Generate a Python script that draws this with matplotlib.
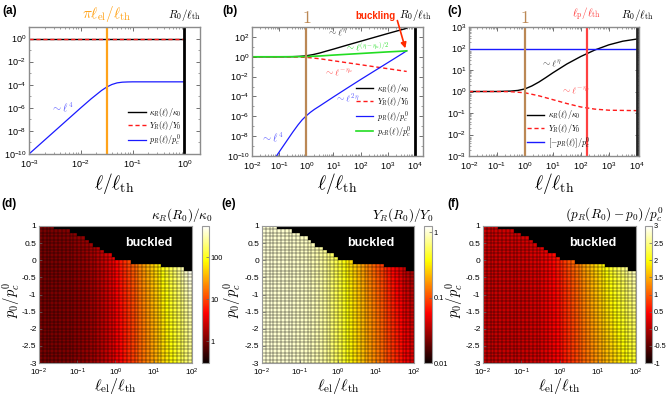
import matplotlib
matplotlib.use('Agg')
import matplotlib.pyplot as plt
import numpy as np
from matplotlib.colors import LogNorm, Normalize
from matplotlib.ticker import FixedLocator, LogLocator, NullFormatter, FixedFormatter
import matplotlib.transforms as mtransforms

plt.rcParams['font.family'] = ['Liberation Sans', 'DejaVu Sans']
plt.rcParams['mathtext.fontset'] = 'cm'
plt.rcParams['axes.unicode_minus'] = False

# ---------------- datos (log10) panel (a) ----------------
a_lx_p = [-3, -2.5, -2, -1.8, -1.6, -1.5, -1.4, -1.3, -1.2, -1.1, -1.0, -0.8, -0.5, 0]
a_ly_p = [-10, -8, -6, -5.22, -4.5, -4.2, -3.98, -3.84, -3.78, -3.76, -3.75, -3.75, -3.75, -3.75]
a_lx_flat = [-3, 0]
a_ly_flat = [0, 0]
a_lel = 0.01

# ---------------- panel (b) ----------------
b_lx_k = [-2, -1, -0.5, -0.25, 0, 0.25, 0.5, 0.75, 1, 1.5, 2, 2.5, 3, 3.5, 3.7]
b_ly_k = [0, 0, 0.01, 0.04, 0.1, 0.22, 0.38, 0.58, 0.77, 1.17, 1.56, 1.95, 2.34, 2.72, 2.87]
b_lx_g = [-2, -1, 0, 0.5, 1, 1.5, 2, 2.5, 3, 3.5, 3.7]
b_ly_g = [0, 0, 0.02, 0.08, 0.17, 0.25, 0.33, 0.41, 0.49, 0.56, 0.6]
b_lx_y = [-2, -1, -0.5, 0, 0.5, 1, 1.5, 2, 2.5, 3, 3.5, 3.7]
b_ly_y = [0, 0, -0.01, -0.06, -0.2, -0.4, -0.6, -0.8, -1.0, -1.2, -1.4, -1.48]
b_lx_p = [-1.15, -0.8, -0.5, -0.3, -0.15, 0, 0.15, 0.3, 0.5, 0.75, 1, 1.5, 2, 2.5, 3, 3.5, 3.7]
b_ly_p = [-10.2, -8.8, -7.6, -6.85, -6.35, -5.95, -5.6, -5.3, -4.95, -4.5, -4.05, -3.17, -2.3, -1.45, -0.6, 0.25, 0.6]

# ---------------- panel (c) ----------------
c_lx_k = [-2, -1, -0.5, -0.25, 0, 0.25, 0.5, 0.75, 1, 1.5, 2, 2.5, 3, 3.5, 4]
c_ly_k = [0, 0, 0.02, 0.05, 0.12, 0.26, 0.44, 0.65, 0.87, 1.28, 1.63, 1.93, 2.17, 2.34, 2.44]
c_lx_y = [-2, -1, -0.5, 0, 0.5, 1, 1.5, 2, 2.5, 3, 3.5, 4]
c_ly_y = [0, 0, -0.01, -0.06, -0.2, -0.38, -0.56, -0.72, -0.82, -0.87, -0.88, -0.89]
c_lx_p = [-2, 4]
c_ly_p = [2, 2]
c_lp = 160

# ---------------- mapas (d)-(f): 40 columnas x 40 filas ----------------
# borde superior (p0/pc0) de la zona no pandeada por columna
buckle_top = [1.0]*4 + [0.9]*4 + [0.8]*2 + [0.7]*2 + [0.6, 0.5] + [0.4]*2 + [0.3] + \
             [0.2]*2 + [0.1] + [0.0]*4 + [-0.1]*8 + [-0.2]*6 + [-0.3]*2
kappa_col = [1.00, 1.01, 1.02, 1.03, 1.05, 1.07, 1.09, 1.12, 1.15, 1.19,
             1.24, 1.3, 1.38, 1.48, 1.6, 1.78, 2.0, 2.3, 2.7, 3.2,
             3.9, 4.8, 5.9, 7.3, 9.0, 11, 14, 17, 21, 26,
             32, 40, 50, 62, 77, 95, 118, 145, 180, 220]
young_col = [1.0, 1.0, 1.0, 0.99, 0.99, 0.99, 0.98, 0.98, 0.97, 0.96,
             0.95, 0.94, 0.92, 0.90, 0.87, 0.83, 0.78, 0.72, 0.65, 0.58,
             0.51, 0.45, 0.39, 0.34, 0.30, 0.26, 0.23, 0.20, 0.18, 0.16,
             0.14, 0.125, 0.11, 0.095, 0.085, 0.075, 0.066, 0.058, 0.052, 0.046]
press_col = [0.10, 0.10, 0.10, 0.10, 0.10, 0.11, 0.11, 0.11, 0.12, 0.12,
             0.13, 0.14, 0.15, 0.17, 0.19, 0.22, 0.26, 0.31, 0.37, 0.44,
             0.52, 0.60, 0.69, 0.78, 0.87, 0.96, 1.05, 1.14, 1.23, 1.32,
             1.40, 1.48, 1.56, 1.64, 1.72, 1.80, 1.88, 1.96, 2.04, 2.12]
# variación con p0 (filas, de p0=-3 a p0=1)
row_exp = [1.000, 1.003, 1.006, 1.009, 1.012, 1.015, 1.018, 1.021, 1.025, 1.029,
           1.033, 1.037, 1.041, 1.046, 1.051, 1.056, 1.061, 1.067, 1.073, 1.080,
           1.087, 1.094, 1.102, 1.110, 1.119, 1.128, 1.138, 1.149, 1.160, 1.172,
           1.185, 1.198, 1.212, 1.226, 1.241, 1.256, 1.272, 1.288, 1.305, 1.322]
row_mult = [1.00, 1.01, 1.02, 1.03, 1.04, 1.05, 1.06, 1.07, 1.08, 1.09,
            1.10, 1.11, 1.12, 1.13, 1.14, 1.15, 1.16, 1.17, 1.18, 1.19,
            1.20, 1.21, 1.22, 1.23, 1.24, 1.26, 1.28, 1.30, 1.32, 1.34,
            1.36, 1.38, 1.40, 1.42, 1.44, 1.46, 1.48, 1.50, 1.52, 1.54]

W, H = 667, 396
BLUE = '#1a1aff'
RED = '#ff1a1a'
GREEN = '#22dd22'
ORANGE = '#ffa31a'
BROWN = '#bb8855'
LRED = '#ff4040'


def box(x0, y0, x1, y1):
    return [x0 / W, 1 - y1 / H, (x1 - x0) / W, (y1 - y0) / H]


def p10(v):
    return 10 ** np.array(v, dtype=float)


fig = plt.figure(figsize=(W / 100, H / 100), dpi=100)


def style_top(ax, xlim, ylim, yticks_exp, xticks_exp):
    ax.set_xscale('log')
    ax.set_yscale('log')
    ax.set_xlim(*xlim)
    ax.set_ylim(*ylim)
    ax.xaxis.set_major_locator(FixedLocator(p10(xticks_exp)))
    ax.yaxis.set_major_locator(FixedLocator(p10(yticks_exp)))
    ax.xaxis.set_minor_locator(LogLocator(base=10, subs=np.arange(2, 10), numticks=50))
    ax.xaxis.set_minor_formatter(NullFormatter())
    ax.yaxis.set_minor_formatter(NullFormatter())
    ax.tick_params(which='both', direction='in', top=True, right=True, labelsize=6.5,
                   color='0.35', pad=2)
    ax.tick_params(axis='x', which='major', pad=3.2)
    ax.tick_params(which='major', length=3, width=0.6)
    ax.tick_params(which='minor', length=1.5, width=0.4)
    for s in ax.spines.values():
        s.set_color('0.55')
        s.set_linewidth(1.0)


def top_label(ax, x, txt, color, size, y=1.02):
    tr = mtransforms.blended_transform_factory(ax.transData, ax.transAxes)
    ax.text(x, y, txt, transform=tr, ha='center', va='bottom', color=color,
            fontsize=size, clip_on=False)


leg_kw = dict(fontsize=5.8, frameon=False, handlelength=2.2, labelspacing=0.05,
              handletextpad=0.4, borderaxespad=0.0, borderpad=0.2)
ann = 7

# ---------------- (a) ----------------
ax = fig.add_axes(box(29, 27, 200, 154))
ax.plot(p10(a_lx_flat), p10(a_ly_flat), color='k', lw=1.0, label=r'$\kappa_R(\ell)/\kappa_0$')
ax.plot(p10(a_lx_flat), p10(a_ly_flat), color=RED, lw=1.0, ls=(0, (3, 2)), label=r'$Y_R(\ell)/Y_0$')
ax.plot(p10(a_lx_p), p10(a_ly_p), color=BLUE, lw=0.9, label=r'$p_R(\ell)/p_c^0$')
ax.axvline(np.pi * a_lel, color=ORANGE, lw=1.6)
ax.axvline(1.0, color='k', lw=2.0)
style_top(ax, (1e-3, 2), (1e-10, 10), range(-10, 1, 2), range(-3, 1))
ax.yaxis.set_minor_locator(FixedLocator(p10(range(-9, 1, 2))))
ax.text(10 ** -2.35, 10 ** -5.9, r'$\sim\ell^4$', color='#5a5aff', fontsize=ann + 0.5, ha='center', va='center')
top_label(ax, np.pi * a_lel, r'$\pi\ell_{\rm el}/\ell_{\rm th}$', ORANGE, 11)
top_label(ax, 1.0, r'$R_0/\ell_{\rm th}$', 'k', 8, y=1.03)
ax.legend(loc='lower right', bbox_to_anchor=(0.9, 0.04), **leg_kw)
ax.text(0.5, -0.23, r'$\ell/\ell_{\rm th}$', transform=ax.transAxes, ha='center', va='center', fontsize=14)

# ---------------- (b) ----------------
ax = fig.add_axes(box(252, 27, 423, 156))
ax.plot(p10(b_lx_k), p10(b_ly_k), color='k', lw=1.0, label=r'$\kappa_R(\ell)/\kappa_0$')
ax.plot(p10(b_lx_y), p10(b_ly_y), color=RED, lw=1.0, ls=(0, (3, 2)), label=r'$Y_R(\ell)/Y_0$')
ax.plot(p10(b_lx_p), p10(b_ly_p), color=BLUE, lw=0.9, label=r'$p_R(\ell)/p_c^0$')
ax.plot(p10(b_lx_g), p10(b_ly_g), color=GREEN, lw=1.2, label=r'$p_{cR}(\ell)/p_c^0$')
ax.axvline(1.0, color=BROWN, lw=1.6)
ax.axvline(1e4, color='k', lw=2.0)
style_top(ax, (1e-2, 2e4), (1e-10, 1e3), range(-10, 3, 2), range(-2, 5))
ax.yaxis.set_minor_locator(FixedLocator(p10(range(-9, 3, 2))))
ax.text(10 ** 1.15, 10 ** 2.45, r'$\sim\ell^{\eta}$', color='0.25', fontsize=ann, ha='center', va='center')
ax.text(10 ** 2.25, 10 ** 1.02, r'$\sim\ell^{(\eta-\eta_u)/2}$', color=GREEN, fontsize=ann - 0.5, ha='center', va='center')
ax.text(10 ** 1.19, 10 ** -1.6, r'$\sim\ell^{-\eta_u}$', color='#ff5050', fontsize=ann, ha='center', va='center')
ax.text(10 ** 1.5, 10 ** -4.2, r'$\sim\ell^{2\eta}$', color='#5a5aff', fontsize=ann, ha='center', va='center')
ax.text(10 ** -1.25, 10 ** -8.1, r'$\sim\ell^{4}$', color='#5a5aff', fontsize=ann + 0.5, ha='center', va='center')
top_label(ax, 1.0, r'$1$', BROWN, 13, y=1.0)
top_label(ax, 1e4, r'$R_0/\ell_{\rm th}$', 'k', 8, y=1.03)
ax.text(0.72, 1.085, 'buckling', transform=ax.transAxes, ha='center', va='center',
        color='#ff2a00', fontweight='bold', fontsize=7)
ax.annotate('', xy=(10 ** 3.65, 10 ** 0.85), xytext=(0.85, 1.05), textcoords='axes fraction',
            arrowprops=dict(arrowstyle='-|>', color='#ff2a00', lw=1.2, mutation_scale=8,
                            shrinkA=0, shrinkB=0), annotation_clip=False)
ax.legend(loc='lower right', bbox_to_anchor=(0.94, 0.12), **leg_kw)
ax.text(0.5, -0.21, r'$\ell/\ell_{\rm th}$', transform=ax.transAxes, ha='center', va='center', fontsize=14)

# ---------------- (c) ----------------
ax = fig.add_axes(box(469, 27, 639, 156))
ax.plot(p10(c_lx_k), p10(c_ly_k), color='k', lw=1.0, label=r'$\kappa_R(\ell)/\kappa_0$')
ax.plot(p10(c_lx_y), p10(c_ly_y), color=RED, lw=1.0, ls=(0, (3, 2)), label=r'$Y_R(\ell)/Y_0$')
ax.plot(p10(c_lx_p), p10(c_ly_p), color=BLUE, lw=1.0, label=r'$[-p_R(\ell)]/p_c^0$')
ax.axvline(1.0, color=BROWN, lw=1.6)
ax.axvline(c_lp, color=LRED, lw=1.6)
ax.axvline(1e4, color='0.15', lw=2.0)
style_top(ax, (1e-2, 1.2e4), (1e-3, 1e3), range(-3, 4), range(-2, 5))
ax.text(10 ** 0.95, 10 ** 1.3, r'$\sim\ell^{\eta}$', color='0.25', fontsize=ann, ha='center', va='center')
ax.text(10 ** 1.8, 10 ** 0.05, r'$\sim\ell^{-\eta_u}$', color='#ff5050', fontsize=ann, ha='center', va='center')
top_label(ax, 1.0, r'$1$', BROWN, 13, y=1.0)
top_label(ax, c_lp, r'$\ell_{\rm p}/\ell_{\rm th}$', LRED, 8, y=1.03)
top_label(ax, 1e4, r'$R_0/\ell_{\rm th}$', 'k', 8, y=1.03)
ax.legend(loc='lower left', bbox_to_anchor=(0.33, 0.03), **leg_kw)
ax.text(0.5, -0.21, r'$\ell/\ell_{\rm th}$', transform=ax.transAxes, ha='center', va='center', fontsize=14)

# ---------------- mapas ----------------
xe = 10 ** np.linspace(-2, 2, 41)
ye = np.linspace(-3, 1, 41)
mask = ye[1:][:, None] > np.array(buckle_top)[None, :] + 1e-9

kap = np.array(kappa_col)[None, :] ** np.array(row_exp)[:, None]
you = np.array(young_col)[None, :] ** np.array(row_exp)[:, None]
pre = np.array(press_col)[None, :] * np.array(row_mult)[:, None]

panels = [
    (box(39, 226, 192, 363), box(202, 226, 209, 363), kap, LogNorm(0.3, 550),
     [1, 10, 100], ['1', '10', '100'], r'$\kappa_R(R_0)/\kappa_0$', 213, -0.18),
    (box(262, 226, 414, 363), box(424, 226, 432, 363), you, LogNorm(0.01, 1.25),
     [0.01, 0.1, 1], ['0.01', '0.1', '1'], r'$Y_R(R_0)/Y_0$', 434, -0.2),
    (box(483, 226, 636, 363), box(645, 226, 652, 363), pre, Normalize(-1, 3),
     list(np.arange(-1, 3.01, 0.5)), ['-1', '-0.5', '0', '0.5', '1', '1.5', '2', '2.5', '3'],
     r'$\left(p_R(R_0)-p_0\right)/p_c^0$', 664, -0.188),
]

for rect, crect, vals, norm, cticks, clabels, ctitle, tx, ylx in panels:
    ax = fig.add_axes(rect)
    C = np.ma.masked_array(vals, mask=mask)
    m = ax.pcolormesh(xe, ye, C, cmap='hot', norm=norm, edgecolors='none', antialiased=False)
    # rejilla de celdas
    ax.vlines(xe, -3, 1, colors='k', lw=0.35, alpha=0.85)
    ax.hlines(ye, 1e-2, 1e2, colors='k', lw=0.35, alpha=0.85)
    ax.set_facecolor('black')
    ax.set_xscale('log')
    ax.set_xlim(1e-2, 1e2)
    ax.set_ylim(-3, 1)
    ax.xaxis.set_major_locator(FixedLocator([1e-2, 1e-1, 1, 10, 100]))
    ax.xaxis.set_minor_locator(FixedLocator([]))
    ax.yaxis.set_major_locator(FixedLocator(np.arange(-3, 1.01, 0.5)))
    ax.yaxis.set_major_formatter(FixedFormatter(['-3', '-2.5', '-2', '-1.5', '-1', '-0.5', '0', '0.5', '1']))
    ax.tick_params(direction='in', length=2, width=0.5, labelsize=6, pad=1.8, color='0.5')
    ax.tick_params(axis='x', labelsize=5.8, pad=2.5)
    for s in ax.spines.values():
        s.set_color('0.6')
        s.set_linewidth(0.8)
    ax.text(10 ** 0.87, 0.5, 'buckled', color='white', fontweight='bold', fontsize=9,
            ha='center', va='center')
    ax.text(0.5, -0.17, r'$\ell_{\rm el}/\ell_{\rm th}$', transform=ax.transAxes,
            ha='center', va='center', fontsize=11.5)
    ax.text(ylx, 0.46, r'$p_0/p_c^0$', transform=ax.transAxes, rotation=90,
            ha='center', va='center', fontsize=10.5)
    cax = fig.add_axes(crect)
    cb = fig.colorbar(m, cax=cax)
    cb.set_ticks(cticks)
    cb.set_ticklabels(clabels)
    cb.ax.minorticks_off()
    cb.ax.tick_params(direction='in', length=2, width=0.5, labelsize=5.3, pad=1.2, color='0.4')
    cb.outline.set_edgecolor('0.6')
    cb.outline.set_linewidth(0.8)
    fig.text(tx / W, 1 - 215 / H, ctitle, ha='right', va='center', fontsize=9.5)

for lab, x, y in [('(a)', 2, 11), ('(b)', 222, 11), ('(c)', 447, 11),
                  ('(d)', 1, 204), ('(e)', 221, 204), ('(f)', 447, 204)]:
    fig.text(x / W, 1 - y / H, lab, fontsize=8.5, fontweight='bold', ha='left', va='center')

fig.savefig('out.png', dpi=100)
